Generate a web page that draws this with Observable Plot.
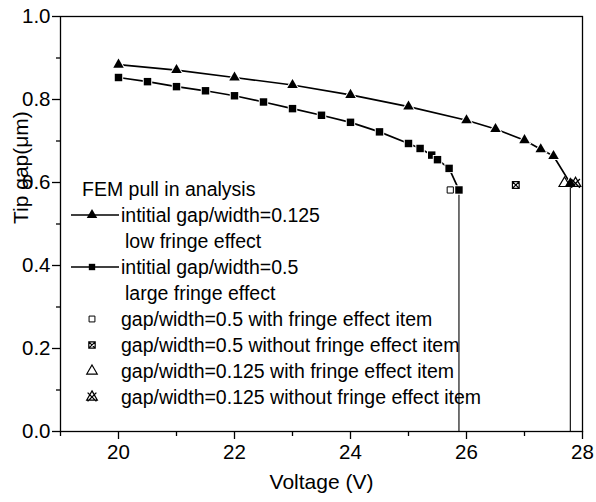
<!DOCTYPE html>
<html><head><meta charset="utf-8">
<script src="https://cdn.jsdelivr.net/npm/d3@7"></script>
<script src="https://cdn.jsdelivr.net/npm/@observablehq/plot@0.6"></script>
<style>body{margin:0;background:#fff;}</style>
</head><body><div id="chart"></div>
<script>
// ---- data ----
const triV   = [20, 21, 22, 23, 24, 25, 26, 26.5, 27, 27.28, 27.5, 27.79];
const triGap = [0.884, 0.871, 0.853, 0.835, 0.811, 0.783, 0.750, 0.729, 0.702, 0.680, 0.664, 0.598];
const sqV    = [20, 20.5, 21, 21.5, 22, 22.5, 23, 23.5, 24, 24.5, 25, 25.2, 25.4, 25.5, 25.7, 25.87];
const sqGap  = [0.853, 0.843, 0.831, 0.821, 0.809, 0.794, 0.778, 0.762, 0.745, 0.722, 0.694, 0.682, 0.666, 0.655, 0.634, 0.582];
const pullInV   = [25.87, 27.79];
const pullInGap = [0.582, 0.598];
const anaV    = [25.72, 26.85, 27.69, 27.88];
const anaGap  = [0.582, 0.594, 0.598, 0.598];
const anaKind = ["openSquare", "crossSquare", "openTriangle", "triangleX"];
const xMajor = [20, 22, 24, 26, 28];
const xMinor = [19, 21, 23, 25, 27];
const yMajor = [0, 0.2, 0.4, 0.6, 0.8, 1.0];
const yMinor = [0.1, 0.3, 0.5, 0.7, 0.9];
const xLabel = "Voltage (V)";
const yLabel = "Tip gap(μm)";
const legendTitle = "FEM pull in analysis";
const legendLabels = [
  "intitial gap/width=0.125", "low fringe effect",
  "intitial gap/width=0.5", "large fringe effect",
  "gap/width=0.5 with fringe effect item",
  "gap/width=0.5 without fringe effect item",
  "gap/width=0.125 with fringe effect item",
  "gap/width=0.125 without fringe effect item"
];

// ---- custom symbols ----
const crossSquare = {draw(ctx, size) {
  const s = Math.sqrt(size) / 2;
  ctx.moveTo(-s, -s); ctx.lineTo(s, -s); ctx.lineTo(s, s); ctx.lineTo(-s, s); ctx.closePath();
  ctx.moveTo(-s, -s); ctx.lineTo(s, s); ctx.moveTo(s, -s); ctx.lineTo(-s, s);
}};
const triangleX = {draw(ctx, size) {
  const t = Math.sqrt(size / 0.433), h = t * Math.sqrt(3) / 2;
  ctx.moveTo(0, -2 * h / 3); ctx.lineTo(t / 2, h / 3); ctx.lineTo(-t / 2, h / 3); ctx.closePath();
  const a = t / 2.4;
  ctx.moveTo(-a, -a); ctx.lineTo(a, a); ctx.moveTo(a, -a); ctx.lineTo(-a, a);
}};

const tri = triV.map((v, i) => ({v, g: triGap[i]}));
const sq = sqV.map((v, i) => ({v, g: sqGap[i]}));
const pull = pullInV.map((v, i) => ({v, g: pullInGap[i]}));
const ana = anaV.map((v, i) => ({v, g: anaGap[i], k: anaKind[i]}));

const font = "'Liberation Sans', Arial, sans-serif";
const plot = Plot.plot({
  width: 596, height: 502,
  marginLeft: 60, marginRight: 14, marginTop: 16, marginBottom: 71,
  style: {fontFamily: font, background: "#fff", color: "#000"},
  x: {domain: [19, 28]},
  y: {domain: [0, 1]},
  marks: [
    Plot.axisX({ticks: xMajor, tickSize: 8, tickPadding: 5, fontSize: 20.5, label: null, tickFormat: d => String(d), strokeWidth: 1.3}),
    Plot.axisX({ticks: xMinor, tickSize: 5, tickFormat: () => "", label: null, strokeWidth: 1.3}),
    Plot.axisY({ticks: yMajor, tickSize: 8, tickPadding: 2, fontSize: 20.5, label: null, tickFormat: d3.format(".1f"), strokeWidth: 1.3}),
    Plot.axisY({ticks: yMinor, tickSize: 4, tickFormat: () => "", label: null, strokeWidth: 1.3}),
    Plot.frame({stroke: "#000", strokeWidth: 1.3}),
    Plot.text([xLabel], {frameAnchor: "bottom", dy: 57, fontSize: 21, fill: "#000"}),
    Plot.text([yLabel], {frameAnchor: "left", dx: -39, rotate: -90, fontSize: 21, fill: "#000"}),
    Plot.ruleX(pull, {x: "v", y1: 0, y2: "g", stroke: "#000", strokeWidth: 1.1}),
    Plot.line(tri, {x: "v", y: "g", stroke: "#000", strokeWidth: 1.7}),
    Plot.line(sq, {x: "v", y: "g", stroke: "#000", strokeWidth: 1.7}),
    Plot.dot(tri, {x: "v", y: "g", symbol: "triangle", r: 3.9, fill: "#000", stroke: "#fff", strokeWidth: 2, paintOrder: "stroke"}),
    Plot.dot(sq, {x: "v", y: "g", symbol: "square", r: 4.2, fill: "#000", stroke: "#fff", strokeWidth: 2, paintOrder: "stroke"}),
    Plot.dot(ana.filter(d => d.k === "openSquare"), {x: "v", y: "g", symbol: "square", r: 3.5, fill: "#fff", stroke: "#000", strokeWidth: 1}),
    Plot.dot(ana.filter(d => d.k === "crossSquare"), {x: "v", y: "g", symbol: crossSquare, r: 3.8, fill: "#fff", stroke: "#000", strokeWidth: 1.2}),
    Plot.dot(ana.filter(d => d.k === "openTriangle"), {x: "v", y: "g", symbol: d3.symbolTriangle, r: 4.1, fill: "none", stroke: "#000", strokeWidth: 1.2}),
    Plot.dot(ana.filter(d => d.k === "triangleX"), {x: "v", y: "g", symbol: triangleX, r: 3.9, fill: "none", stroke: "#000", strokeWidth: 1.3})
  ]
});

// ---- legend (layout only) ----
const svg = d3.select(plot);
const lg = svg.append("g").attr("font-family", font).attr("font-size", 19.5).attr("fill", "#000").attr("text-anchor", "start");
const rowY = i => 189 + 26 * i;
lg.append("text").attr("x", 82).attr("y", rowY(0)).attr("dy", "0.35em").attr("text-anchor", "start").text(legendTitle);
const sym = (type, size) => d3.symbol(type, size)();
const items = [
  {row: 1, line: true, type: d3.symbolTriangle, size: Math.PI * 3.9 * 3.9, fill: "#000", sw: 0, text: legendLabels[0]},
  {row: 2, text: legendLabels[1], sub: true},
  {row: 3, line: true, type: d3.symbolSquare, size: Math.PI * 3.6 * 3.6, fill: "#000", sw: 0, text: legendLabels[2]},
  {row: 4, text: legendLabels[3], sub: true},
  {row: 5, type: d3.symbolSquare, size: Math.PI * 3.3 * 3.3, fill: "#fff", sw: 1, text: legendLabels[4]},
  {row: 6, type: crossSquare, size: Math.PI * 3.6 * 3.6, fill: "#fff", sw: 1.2, text: legendLabels[5]},
  {row: 7, type: d3.symbolTriangle, size: Math.PI * 3.9 * 3.9, fill: "none", sw: 1.2, text: legendLabels[6]},
  {row: 8, type: triangleX, size: Math.PI * 3.9 * 3.9, fill: "none", sw: 1.3, text: legendLabels[7]}
];
for (const it of items) {
  const y = rowY(it.row);
  if (it.line) lg.append("line").attr("x1", 71).attr("x2", 119).attr("y1", y).attr("y2", y).attr("stroke", "#000").attr("stroke-width", 1.7);
  if (it.type) lg.append("path").attr("d", sym(it.type, it.size)).attr("transform", `translate(92,${y})`)
      .attr("fill", it.fill).attr("stroke", it.sw ? "#000" : "none").attr("stroke-width", it.sw);
  lg.append("text").attr("x", it.sub ? 125 : 121).attr("y", y).attr("dy", "0.35em").attr("text-anchor", "start").text(it.text);
}
document.getElementById("chart").appendChild(plot);
</script>
</body></html>
